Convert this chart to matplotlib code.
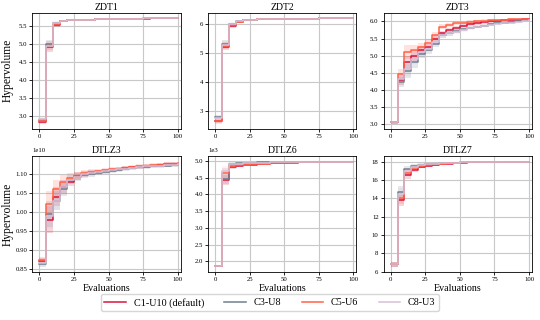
import matplotlib
matplotlib.use("Agg")
import matplotlib.pyplot as plt
from matplotlib.ticker import MultipleLocator
import numpy as np

plt.rcParams['font.family'] = ['Liberation Serif', 'DejaVu Serif']
plt.rcParams['mathtext.fontset'] = 'stix'

evaluations = [0, 5, 10, 15, 20, 25, 30, 35, 40, 45, 50, 55, 60, 65, 70, 75, 80, 85, 90, 95, 100]
labels = ["C1-U10 (default)", "C3-U8", "C5-U6", "C8-U3"]
colors = ["#DC143C", "#708090", "#FF6347", "#D8BFD8"]
titles = ["ZDT1", "ZDT2", "ZDT3", "DTLZ3", "DTLZ6", "DTLZ7"]

zdt1_c1 = [2.83, 4.90, 5.52, 5.63, 5.66, 5.67, 5.68, 5.68, 5.69, 5.69, 5.69, 5.70, 5.70, 5.70, 5.70, 5.70, 5.71, 5.71, 5.71, 5.71, 5.71]
zdt1_c3 = [2.88, 5.00, 5.57, 5.64, 5.66, 5.67, 5.68, 5.68, 5.69, 5.69, 5.70, 5.70, 5.70, 5.70, 5.70, 5.71, 5.71, 5.71, 5.71, 5.71, 5.71]
zdt1_c5 = [2.85, 4.95, 5.55, 5.63, 5.66, 5.67, 5.68, 5.68, 5.69, 5.69, 5.69, 5.70, 5.70, 5.70, 5.70, 5.70, 5.71, 5.71, 5.71, 5.71, 5.71]
zdt1_c8 = [2.90, 4.95, 5.58, 5.64, 5.66, 5.67, 5.68, 5.68, 5.69, 5.69, 5.70, 5.70, 5.70, 5.70, 5.70, 5.71, 5.71, 5.71, 5.71, 5.71, 5.71]
zdt1_sd = [0.05, 0.12, 0.05, 0.03, 0.02, 0.01, 0.01, 0.01, 0.01, 0.01, 0.01, 0.01, 0.01, 0.01, 0.01, 0.01, 0.01, 0.01, 0.01, 0.01, 0.01]

zdt2_c1 = [2.65, 5.22, 5.95, 6.10, 6.15, 6.17, 6.18, 6.18, 6.19, 6.19, 6.20, 6.20, 6.20, 6.20, 6.20, 6.21, 6.21, 6.21, 6.21, 6.21, 6.21]
zdt2_c3 = [2.78, 5.33, 6.00, 6.11, 6.15, 6.17, 6.18, 6.18, 6.19, 6.19, 6.20, 6.20, 6.20, 6.20, 6.20, 6.21, 6.21, 6.21, 6.21, 6.21, 6.21]
zdt2_c5 = [2.62, 5.25, 5.98, 6.10, 6.15, 6.17, 6.18, 6.18, 6.19, 6.19, 6.20, 6.20, 6.20, 6.20, 6.20, 6.21, 6.21, 6.21, 6.21, 6.21, 6.21]
zdt2_c8 = [2.75, 5.30, 6.02, 6.11, 6.15, 6.17, 6.18, 6.18, 6.19, 6.19, 6.20, 6.20, 6.20, 6.20, 6.20, 6.21, 6.21, 6.21, 6.21, 6.21, 6.21]
zdt2_sd = [0.07, 0.12, 0.06, 0.03, 0.02, 0.01, 0.01, 0.01, 0.01, 0.01, 0.01, 0.01, 0.01, 0.01, 0.01, 0.01, 0.01, 0.01, 0.01, 0.01, 0.01]

zdt3_c1 = [3.05, 4.28, 4.80, 5.00, 5.15, 5.25, 5.50, 5.65, 5.75, 5.80, 5.88, 5.92, 5.95, 5.98, 6.00, 6.02, 6.03, 6.04, 6.05, 6.06, 6.07]
zdt3_c3 = [3.05, 4.23, 4.55, 4.80, 5.05, 5.15, 5.35, 5.60, 5.65, 5.72, 5.78, 5.82, 5.85, 5.88, 5.92, 5.95, 5.97, 5.99, 6.01, 6.03, 6.05]
zdt3_c5 = [3.05, 4.45, 5.10, 5.15, 5.25, 5.38, 5.60, 5.85, 5.90, 5.95, 5.97, 5.99, 6.00, 6.02, 6.03, 6.04, 6.05, 6.06, 6.07, 6.07, 6.08]
zdt3_c8 = [3.05, 4.30, 4.60, 4.90, 5.10, 5.20, 5.40, 5.60, 5.65, 5.70, 5.75, 5.80, 5.84, 5.87, 5.90, 5.93, 5.95, 5.97, 5.99, 6.01, 6.03]
zdt3_sd = [0.04, 0.15, 0.20, 0.15, 0.12, 0.10, 0.10, 0.08, 0.07, 0.06, 0.05, 0.05, 0.04, 0.04, 0.04, 0.03, 0.03, 0.03, 0.02, 0.02, 0.02]

dtlz3_c1 = [0.872, 0.980, 1.040, 1.065, 1.080, 1.095, 1.100, 1.103, 1.105, 1.108, 1.110, 1.113, 1.115, 1.117, 1.119, 1.120, 1.122, 1.123, 1.125, 1.126, 1.127]
dtlz3_c3 = [0.865, 0.995, 1.030, 1.060, 1.085, 1.092, 1.098, 1.100, 1.103, 1.106, 1.108, 1.110, 1.113, 1.115, 1.117, 1.119, 1.120, 1.121, 1.122, 1.123, 1.124]
dtlz3_c5 = [0.875, 1.020, 1.060, 1.080, 1.090, 1.095, 1.103, 1.105, 1.107, 1.110, 1.112, 1.114, 1.116, 1.118, 1.120, 1.121, 1.123, 1.124, 1.125, 1.127, 1.128]
dtlz3_c8 = [0.868, 0.990, 1.030, 1.065, 1.085, 1.093, 1.100, 1.103, 1.105, 1.108, 1.110, 1.112, 1.114, 1.116, 1.118, 1.120, 1.121, 1.122, 1.123, 1.124, 1.125]
dtlz3_sd = [0.008, 0.035, 0.025, 0.018, 0.012, 0.010, 0.008, 0.007, 0.006, 0.006, 0.005, 0.005, 0.005, 0.005, 0.005, 0.005, 0.005, 0.005, 0.005, 0.005, 0.005]

dtlz6_c1 = [1.87, 4.42, 4.82, 4.85, 4.87, 4.89, 4.90, 4.92, 4.93, 4.94, 4.95, 4.95, 4.96, 4.96, 4.96, 4.96, 4.96, 4.97, 4.97, 4.97, 4.97]
dtlz6_c3 = [1.87, 4.45, 4.92, 4.93, 4.94, 4.95, 4.96, 4.96, 4.97, 4.97, 4.97, 4.97, 4.97, 4.98, 4.98, 4.98, 4.98, 4.98, 4.98, 4.98, 4.98]
dtlz6_c5 = [1.87, 4.65, 4.85, 4.87, 4.88, 4.90, 4.91, 4.92, 4.93, 4.94, 4.95, 4.95, 4.96, 4.96, 4.96, 4.96, 4.97, 4.97, 4.97, 4.97, 4.97]
dtlz6_c8 = [1.87, 4.70, 4.90, 4.92, 4.93, 4.94, 4.95, 4.95, 4.96, 4.96, 4.96, 4.96, 4.97, 4.97, 4.97, 4.97, 4.97, 4.97, 4.97, 4.97, 4.97]
dtlz6_sd = [0.03, 0.15, 0.05, 0.03, 0.02, 0.02, 0.01, 0.01, 0.01, 0.01, 0.01, 0.01, 0.01, 0.01, 0.01, 0.01, 0.01, 0.01, 0.01, 0.01, 0.01]

dtlz7_c1 = [6.80, 13.8, 16.5, 17.1, 17.4, 17.55, 17.65, 17.72, 17.78, 17.83, 17.87, 17.90, 17.92, 17.94, 17.95, 17.96, 17.97, 17.98, 17.99, 18.00, 18.00]
dtlz7_c3 = [6.80, 14.7, 17.2, 17.5, 17.65, 17.72, 17.78, 17.82, 17.86, 17.89, 17.91, 17.93, 17.94, 17.95, 17.96, 17.97, 17.98, 17.99, 17.99, 18.00, 18.00]
dtlz7_c5 = [6.80, 14.0, 16.8, 17.3, 17.5, 17.60, 17.70, 17.76, 17.81, 17.85, 17.88, 17.91, 17.93, 17.94, 17.95, 17.96, 17.97, 17.98, 17.99, 18.00, 18.00]
dtlz7_c8 = [6.80, 14.5, 17.0, 17.4, 17.6, 17.70, 17.76, 17.80, 17.84, 17.87, 17.90, 17.92, 17.94, 17.95, 17.96, 17.97, 17.98, 17.99, 17.99, 18.00, 18.00]
dtlz7_sd = [0.25, 0.60, 0.35, 0.20, 0.15, 0.10, 0.08, 0.06, 0.05, 0.05, 0.04, 0.04, 0.03, 0.03, 0.03, 0.03, 0.03, 0.03, 0.03, 0.03, 0.03]

panels = [
    ([zdt1_c1, zdt1_c3, zdt1_c5, zdt1_c8], zdt1_sd, 1.0),
    ([zdt2_c1, zdt2_c3, zdt2_c5, zdt2_c8], zdt2_sd, 1.0),
    ([zdt3_c1, zdt3_c3, zdt3_c5, zdt3_c8], zdt3_sd, 1.0),
    ([dtlz3_c1, dtlz3_c3, dtlz3_c5, dtlz3_c8], dtlz3_sd, 1e10),
    ([dtlz6_c1, dtlz6_c3, dtlz6_c5, dtlz6_c8], dtlz6_sd, 1e3),
    ([dtlz7_c1, dtlz7_c3, dtlz7_c5, dtlz7_c8], dtlz7_sd, 1.0),
]
y_steps = [0.5, 1.0, 0.5, 0.05e10, 0.5e3, 2.0]

fig, axes = plt.subplots(2, 3, figsize=(5.4, 3.2), dpi=100)
fig.subplots_adjust(left=0.06, right=0.985, top=0.96, bottom=0.15, wspace=0.185, hspace=0.235)

x = np.array(evaluations)
handles = []
for i, (ax, (series, sd, scale)) in enumerate(zip(axes.flat, panels)):
    sdv = np.array(sd) * scale
    for s, c, lab in zip(series, colors, labels):
        y = np.array(s) * scale
        ax.fill_between(x, y - sdv, y + sdv, step='post', color=c, alpha=0.18, linewidth=0)
        h, = ax.plot(x, y, drawstyle='steps-post', color=c, linewidth=1.1, label=lab)
        if i == 0:
            handles.append(h)
    ax.set_title(titles[i], fontsize=7, pad=2)
    ax.set_xlim(-5, 102)
    ax.set_xticks([0, 25, 50, 75, 100])
    ax.yaxis.set_major_locator(MultipleLocator(y_steps[i]))
    ax.grid(True, color='#c8c8c8', linewidth=0.8)
    ax.set_axisbelow(True)
    ax.tick_params(labelsize=4.9, length=2.5, width=0.6, pad=1.2)
    ax.ticklabel_format(axis='y', style='sci', scilimits=(-3, 3))
    ax.yaxis.get_offset_text().set_fontsize(4.9)
    for sp in ax.spines.values():
        sp.set_linewidth(0.6)
    if i % 3 == 0:
        ax.set_ylabel("Hypervolume", fontsize=8.3)
        ax.yaxis.set_label_coords(-0.128, 0.5)
    if i >= 3:
        ax.set_xlabel("Evaluations", fontsize=7.2, labelpad=1)

fig.legend(handles=handles, labels=labels, loc='lower center', ncol=4,
           bbox_to_anchor=(0.5, 0.012), fontsize=7.3, frameon=True,
           handlelength=2.1, columnspacing=2.0, borderpad=0.35, handletextpad=0.8)

fig.savefig("out.png", dpi=100)
